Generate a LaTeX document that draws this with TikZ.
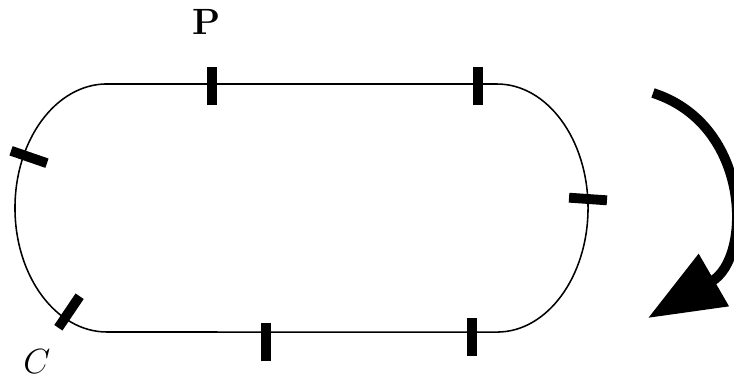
\documentclass[tikz,border=0pt]{standalone}
\usepackage{amsmath}
\usepackage{amssymb}
\usepackage{tikz}
\usetikzlibrary{arrows.meta}

\begin{document}
\begin{tikzpicture}[x=0.025cm,y=0.025cm,
    tickmark/.style={line width=7pt},
    track/.style={line width=1.1pt}]
    \useasboundingbox (0,0) rectangle (734,383);
    % the track
    \draw[track] (107,299)--(497,299)
      arc[start angle=90,end angle=-90,x radius=2.275cm,y radius=3.1cm]
      --(107,51)
      arc[start angle=270,end angle=90,x radius=2.3cm,y radius=3.1cm]--cycle;
    % marks on the track: centre / angle
    \foreach \x/\y/\a in {212/297/90,478/297/90,266/41/90,472/46/90,
                          29/226/-19,588/184/-4,69/71/56}
    \draw[tickmark] (\x,\y)++(\a:-0.475cm)--++(\a:0.95cm);
    \node[font=\fontsize{26}{30}\selectfont\bfseries] (p) at (207,361) {P};
    \node[font=\fontsize{30}{34}\selectfont] (c) at (37,21) {$C$};
    % direction of travel
    \draw[line width=7pt,-{Triangle[length=1.9cm,width=1.45cm]}]
      (653,290) .. controls (752,258) and (752,125) .. (648,65);
\end{tikzpicture}
\end{document}
